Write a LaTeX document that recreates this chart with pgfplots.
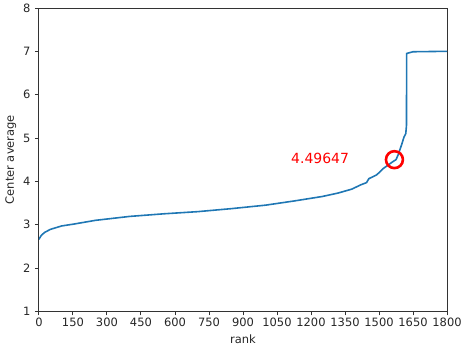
\documentclass[border=0pt]{standalone}
\usepackage{pgfplots}
\pgfplotsset{compat=1.18}
\usepackage{fontspec}
\setmainfont{DejaVu Sans}
\definecolor{mplblue}{HTML}{1F77B4}
\begin{document}
\begin{tikzpicture}
\begin{axis}[
  scale only axis,
  width=409pt, height=304pt,
  xmin=0, xmax=1800, ymin=1, ymax=8,
  xtick={0,150,...,1800},
  ytick={1,...,8},
  tick align=outside,
  xtick pos=left, ytick pos=left,
  major tick length=4pt,
  tick style={black!80, line width=0.9pt},
  axis line style={black!80, line width=0.9pt},
  /pgf/number format/assume math mode=true,
  /pgf/number format/1000 sep={},
  ticklabel style={font=\fontsize{11.5}{13}\selectfont, text=black!85},
  label style={font=\fontsize{11.5}{13}\selectfont, text=black!85},
  xticklabel style={yshift=1pt},
  yticklabel style={xshift=-1pt},
  xlabel={rank},
  ylabel={Center average},
  xlabel style={yshift=-1pt},
  ylabel style={yshift=0pt},
]
\addplot[mplblue, line width=1.6pt] coordinates {
(0,2.66) (10,2.75) (25,2.82) (50,2.89) (100,2.97) (150,3.01) (250,3.10)
(400,3.19) (550,3.25) (700,3.30) (850,3.37) (1000,3.45) (1130,3.55)
(1250,3.65) (1320,3.73) (1380,3.82) (1420,3.92) (1445,3.97) (1455,4.06)
(1490,4.15) (1520,4.30) (1560,4.45)
(1575,4.50) (1585,4.62) (1600,4.85) (1610,5.02) (1618,5.10) (1621,5.28)
(1622,6.95) (1650,6.99) (1800,7.00)
};
\addplot[only marks, mark=o, mark size=8.5pt, red, mark options={line width=2.6pt}] coordinates {(1568,4.50)};
\node[red, font=\fontsize{14}{16}\selectfont] at (axis cs:1240,4.53) {4.49647};
\end{axis}
\pgfresetboundingbox
\path ([shift={(-39pt,-35pt)}]current axis.south west) rectangle ([shift={(15pt,8pt)}]current axis.north east);
\end{tikzpicture}
\end{document}
